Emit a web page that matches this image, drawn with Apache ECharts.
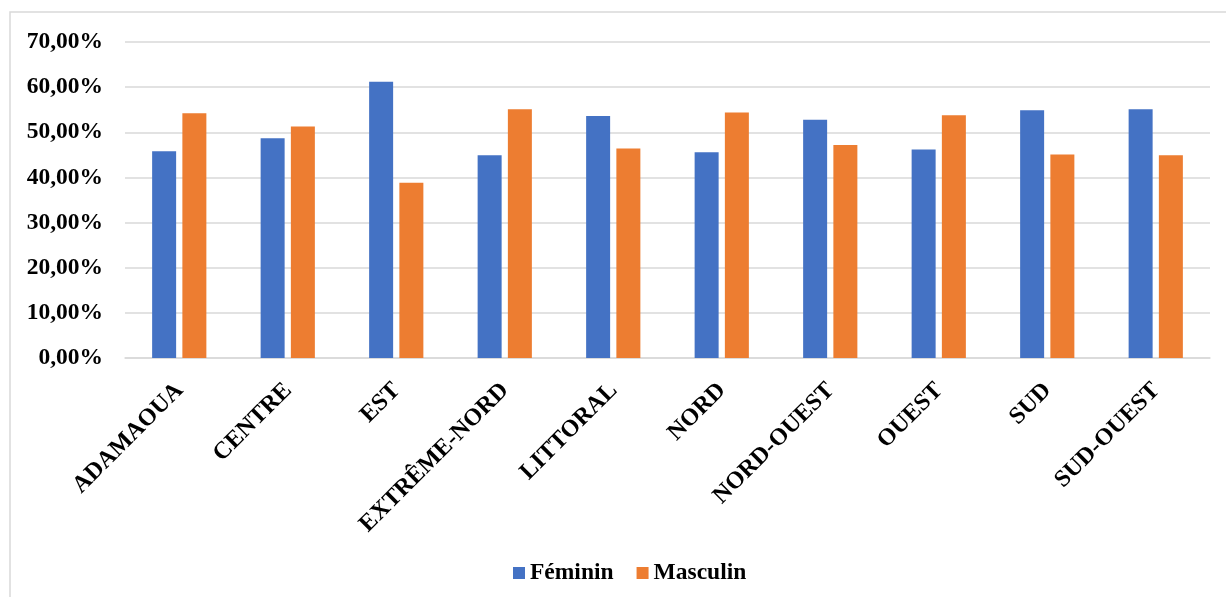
<!DOCTYPE html>
<html>
<head>
<meta charset="utf-8">
<script src="https://cdn.jsdelivr.net/npm/echarts@6/dist/echarts.min.js"></script>
<style>
  html, body { margin: 0; padding: 0; background: #ffffff; }
  #chart { width: 1226px; height: 597px; }
</style>
</head>
<body>
<div id="chart"></div>
<script>
// Regions of Cameroon
const regions = ['ADAMAOUA', 'CENTRE', 'EST', 'EXTRÊME-NORD', 'LITTORAL', 'NORD', 'NORD-OUEST', 'OUEST', 'SUD', 'SUD-OUEST'];
// Share of each sex per region, in percent
const feminin = [45.8, 48.7, 61.2, 44.9, 53.6, 45.6, 52.8, 46.2, 54.9, 55.1];
const masculin = [54.2, 51.3, 38.8, 55.1, 46.4, 54.4, 47.2, 53.8, 45.1, 44.9];
// Value axis settings
const yMin = 0, yMax = 70, yStep = 10;

const font = 'Liberation Serif, Times New Roman, serif';
const fmt = v => v.toFixed(2).replace('.', ',') + '%';

const chart = echarts.init(document.getElementById('chart'));
chart.setOption({
  animation: false,
  backgroundColor: '#ffffff',
  textStyle: { fontFamily: font },
  graphic: [{
    type: 'rect',
    shape: { x: 10, y: 12, width: 1240, height: 620 },
    style: { fill: 'none', stroke: '#d9d9d9', lineWidth: 1.5 },
    silent: true
  }],
  grid: { left: 125, right: 16, top: 42, bottom: 239, containLabel: false },
  legend: {
    data: ['Féminin', 'Masculin'],
    top: 556,
    left: 508,
    icon: 'rect',
    itemWidth: 12,
    itemHeight: 12,
    itemGap: 23,
    textStyle: { fontFamily: font, fontWeight: 'bold', fontSize: 23.5, color: '#000000' }
  },
  xAxis: {
    type: 'category',
    data: regions,
    axisLine: { show: true, lineStyle: { color: '#d9d9d9', width: 1.5 } },
    axisTick: { show: false },
    axisLabel: {
      rotate: 45,
      interval: 0,
      margin: 20,
      verticalAlign: 'top',
      lineHeight: 13,
      padding: [0, 6, 0, 0],
      fontFamily: font,
      fontWeight: 'bold',
      fontSize: 24,
      color: '#000000'
    }
  },
  yAxis: {
    type: 'value',
    min: yMin,
    max: yMax,
    interval: yStep,
    axisLine: { show: false },
    axisTick: { show: false },
    splitLine: { lineStyle: { color: '#d9d9d9', width: 1.5 } },
    axisLabel: {
      formatter: fmt,
      margin: 22,
      fontFamily: font,
      fontWeight: 'bold',
      fontSize: 23.5,
      color: '#000000'
    }
  },
  series: [
    {
      name: 'Féminin',
      type: 'bar',
      data: feminin,
      barWidth: 24,
      barGap: '26%',
      itemStyle: { color: '#4472C4' }
    },
    {
      name: 'Masculin',
      type: 'bar',
      data: masculin,
      barWidth: 24,
      barGap: '26%',
      itemStyle: { color: '#ED7D31' }
    }
  ]
});
</script>
</body>
</html>
